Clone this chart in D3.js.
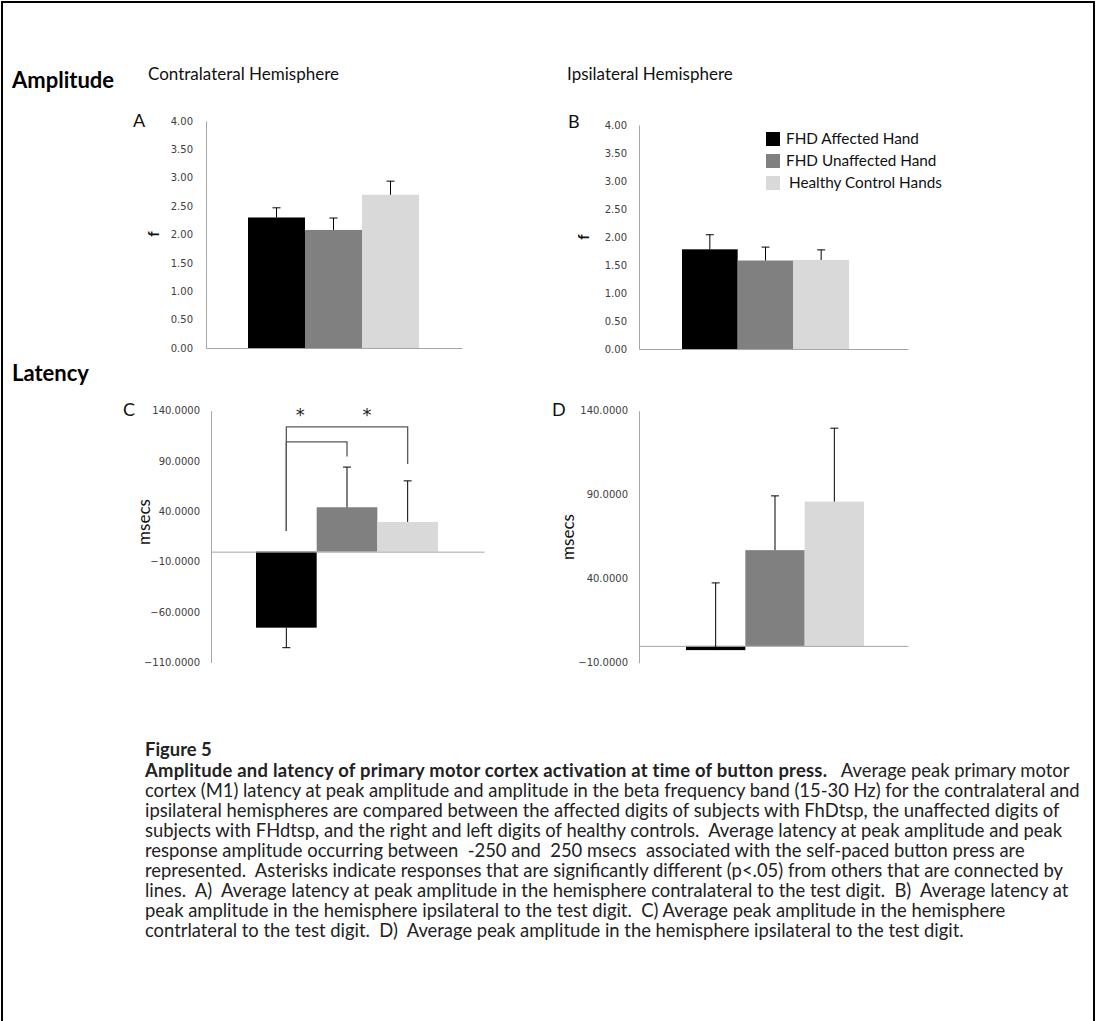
<!DOCTYPE html>
<html>
<head>
<meta charset="utf-8">
<script src="https://cdn.jsdelivr.net/npm/d3@7"></script>
<style>
  html, body { margin: 0; padding: 0; background: #fff; }
  svg { display: block; }
  text { white-space: pre; }
</style>
</head>
<body>
<script>
// ---- data ----
const seriesNames = ["FHD Affected Hand", "FHD Unaffected Hand", "Healthy Control Hands"];
const seriesColors = ["#000000", "#808080", "#d9d9d9"];

// Amplitude (f)
const ampContra = [2.30, 2.08, 2.70];
const ampContraErr = [0.17, 0.21, 0.24];
const ampIpsi = [1.78, 1.58, 1.59];
const ampIpsiErr = [0.26, 0.24, 0.18];
const ampTicks = [0, 0.5, 1, 1.5, 2, 2.5, 3, 3.5, 4];

// Latency (msecs); signed error lengths
const latContra = [-75.5, 44.1, 29.5];
const latContraErr = [-19.9, 39.9, 40.8];
const latIpsi = [-2.5, 57.0, 85.9];
const latIpsiErr = [40.0, 32.3, 43.7];
const latContraTicks = [-110, -60, -10, 40, 90, 140];
const latIpsiTicks = [-10, 40, 90, 140];

// significance brackets in panel C: [from series, to series, bar level, drop levels]
const brackets = [
  { from: 0, to: 2, level: 124, fromDrop: 20.6, toDrop: 87 },
  { from: 0, to: 1, level: 109, fromDrop: 20.6, toDrop: 94.4 }
];
const starPositions = [0.23, 1.33];
const starLevel = 136;

const captionLines = [
  "cortex (M1) latency at peak amplitude and amplitude in the beta frequency band (15-30 Hz) for the contralateral and",
  "ipsilateral hemispheres are compared between the affected digits of subjects with FhDtsp, the unaffected digits of",
  "subjects with FHdtsp, and the right and left digits of healthy controls.  Average latency at peak amplitude and peak",
  "response amplitude occurring between  -250 and  250 msecs  associated with the self-paced button press are",
  "represented.  Asterisks indicate responses that are significantly different (p<.05) from others that are connected by",
  "lines.  A)  Average latency at peak amplitude in the hemisphere contralateral to the test digit.  B)  Average latency at",
  "peak amplitude in the hemisphere ipsilateral to the test digit.  C) Average peak amplitude in the hemisphere",
  "contrlateral to the test digit.  D)  Average peak amplitude in the hemisphere ipsilateral to the test digit."
];

// ---- drawing ----
const W = 1097, H = 1021;
const svg = d3.select("body").append("svg").attr("width", W).attr("height", H);
const SANS = "Lato, 'Open Sans', sans-serif";

// frame
svg.append("path")
  .attr("d", `M2,${H} V2 H1094 V${H}`)
  .attr("fill", "none").attr("stroke", "#000").attr("stroke-width", 2);

// section headings
svg.append("text").attr("x", 12).attr("y", 88).text("Amplitude")
  .attr("font-family", SANS).attr("font-weight", "bold").attr("font-size", 22).attr("fill", "#000");
svg.append("text").attr("x", 12).attr("y", 381).text("Latency")
  .attr("font-family", SANS).attr("font-weight", "bold").attr("font-size", 22).attr("fill", "#000");
svg.append("text").attr("x", 148).attr("y", 80).text("Contralateral Hemisphere")
  .attr("font-family", SANS).attr("font-size", 17).attr("fill", "#111");
svg.append("text").attr("x", 567).attr("y", 80).text("Ipsilateral Hemisphere")
  .attr("font-family", SANS).attr("font-size", 17).attr("fill", "#111");

const panels = [
  { letter: "A", lx: 133, ly: 127, values: ampContra, errs: ampContraErr, domain: [0, 4], ticks: ampTicks, fmt: ".2f",
    ax: 206, axEnd: 462, bx0: 248, bx1: 419, yTop: 121, yBot: 348, pad: 13, yLabel: "f", ylx: 153, yly: 234 },
  { letter: "B", lx: 568, ly: 128, values: ampIpsi, errs: ampIpsiErr, domain: [0, 4], ticks: ampTicks, fmt: ".2f",
    ax: 639, axEnd: 908, bx0: 682, bx1: 849, yTop: 125, yBot: 349, pad: 12, yLabel: "f", ylx: 583, yly: 237 },
  { letter: "C", lx: 123, ly: 416, values: latContra, errs: latContraErr, domain: [-110, 140], ticks: latContraTicks, fmt: ".4f",
    ax: 211, axEnd: 484, bx0: 256, bx1: 438, yTop: 410.7, yBot: 662.4, pad: 11, yLabel: "msecs", ylx: 143, yly: 522 },
  { letter: "D", lx: 552, ly: 416, values: latIpsi, errs: latIpsiErr, domain: [-10, 140], ticks: latIpsiTicks, fmt: ".4f",
    ax: 639, axEnd: 908, bx0: 686, bx1: 864, yTop: 410.7, yBot: 662.7, pad: 11, yLabel: "msecs", ylx: 567, yly: 537 }
];

const scales = {};

panels.forEach(p => {
  const g = svg.append("g");
  const y = d3.scaleLinear().domain(p.domain).range([p.yBot, p.yTop]);
  const x = d3.scaleBand().domain(d3.range(seriesNames.length)).range([p.bx0, p.bx1]).padding(0);
  const xCat = d3.scaleBand().domain(["all"]).range([p.ax, p.axEnd]);
  scales[p.letter] = { x, y };

  // value axis
  const yAxis = d3.axisLeft(y).tickValues(p.ticks).tickFormat(d3.format(p.fmt))
    .tickSizeInner(0).tickSizeOuter(0).tickPadding(p.pad);
  const ya = g.append("g").attr("transform", `translate(${p.ax},0)`).call(yAxis);
  ya.select(".domain").attr("stroke", "#a6a6a6");
  ya.selectAll(".tick text").attr("font-family", "'DejaVu Sans', sans-serif")
    .attr("font-size", 10).attr("fill", "#404040");

  // bars
  g.selectAll("rect.bar").data(p.values).join("rect").attr("class", "bar")
    .attr("x", (d, i) => x(i)).attr("width", x.bandwidth())
    .attr("y", d => Math.min(y(d), y(0)))
    .attr("height", d => Math.abs(y(d) - y(0)))
    .attr("fill", (d, i) => seriesColors[i]);

  // category axis along zero
  const xAxis = d3.axisBottom(xCat).tickValues([]).tickSizeOuter(0);
  const xa = g.append("g").attr("transform", `translate(0,${y(0)})`).call(xAxis);
  xa.select(".domain").attr("stroke", "#a6a6a6");

  // error bars
  const eb = g.selectAll("g.err").data(p.values).join("g").attr("class", "err");
  eb.append("line")
    .attr("x1", (d, i) => x(i) + x.bandwidth() / 2).attr("x2", (d, i) => x(i) + x.bandwidth() / 2)
    .attr("y1", d => y(d)).attr("y2", (d, i) => y(d + p.errs[i]))
    .attr("stroke", "#000").attr("stroke-width", 1);
  eb.append("line")
    .attr("x1", (d, i) => x(i) + x.bandwidth() / 2 - 4).attr("x2", (d, i) => x(i) + x.bandwidth() / 2 + 4)
    .attr("y1", (d, i) => y(d + p.errs[i])).attr("y2", (d, i) => y(d + p.errs[i]))
    .attr("stroke", "#000").attr("stroke-width", 1);

  // panel letter
  svg.append("text").attr("x", p.lx).attr("y", p.ly).text(p.letter)
    .attr("font-family", SANS).attr("font-size", 18).attr("fill", "#111");

  // value-axis title
  const isF = p.yLabel === "f";
  svg.append("text").attr("transform", `translate(${p.ylx},${p.yly}) rotate(-90)`)
    .attr("text-anchor", "middle").attr("dominant-baseline", "central")
    .attr("font-family", SANS).attr("font-size", isF ? 15 : 17)
    .attr("font-weight", isF ? "bold" : "normal").attr("fill", "#111")
    .text(p.yLabel);
});

// significance brackets (panel C)
{
  const { x, y } = scales.C;
  const cx = i => x(i) + x.bandwidth() / 2;
  const bg = svg.append("g").attr("fill", "none").attr("stroke", "#595959").attr("stroke-width", 1.3);
  bg.selectAll("path").data(brackets).join("path")
    .attr("d", b => `M${cx(b.from)},${y(b.fromDrop)} V${y(b.level)} H${cx(b.to)} V${y(b.toDrop)}`);
  const starX = d3.scaleLinear().domain([0, 1]).range([cx(0), cx(1)]);
  svg.selectAll("text.star").data(starPositions).join("text").attr("class", "star")
    .attr("x", d => starX(d)).attr("y", y(starLevel)).attr("text-anchor", "middle")
    .attr("dominant-baseline", "central")
    .attr("font-family", "'DejaVu Sans', sans-serif").attr("font-size", 18).attr("fill", "#222")
    .text("*");
}

// legend (panel B)
const lg = svg.append("g").attr("transform", "translate(766,132)");
const li = lg.selectAll("g").data(seriesNames).join("g")
  .attr("transform", (d, i) => `translate(0,${i * 22})`);
li.append("rect").attr("width", 14).attr("height", 14).attr("fill", (d, i) => seriesColors[i]);
li.append("text").attr("x", (d, i) => i === 2 ? 23 : 20).attr("y", 12).text(d => d)
  .attr("font-family", SANS).attr("font-size", 15.3).attr("fill", "#111");

// caption
const cap = svg.append("g").attr("font-family", SANS).attr("font-size", 18.4).attr("fill", "#222");
cap.append("text").attr("x", 145).attr("y", 756).attr("font-weight", "bold").text("Figure 5");
const first = cap.append("text").attr("x", 145).attr("y", 777);
first.append("tspan").attr("font-weight", "bold").attr("letter-spacing", 0.25)
  .text("Amplitude and latency of primary motor cortex activation at time of button press.");
first.append("tspan").attr("letter-spacing", 0).text("   Average peak primary motor");
cap.selectAll("text.line").data(captionLines).join("text").attr("class", "line")
  .attr("x", 145).attr("y", (d, i) => 797 + i * 20).text(d => d);
</script>
</body>
</html>
